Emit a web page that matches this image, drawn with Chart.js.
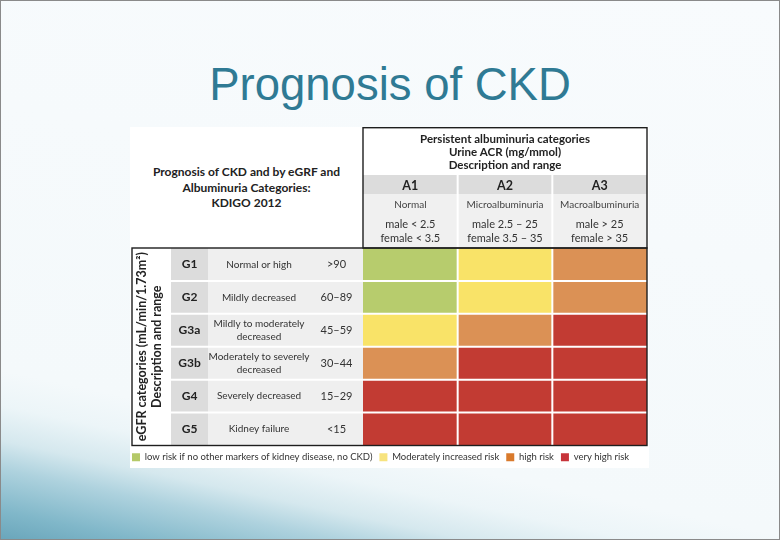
<!DOCTYPE html>
<html>
<head>
<meta charset="utf-8">
<script src="https://cdn.jsdelivr.net/npm/chart.js@4.4.1/dist/chart.umd.min.js"></script>
<style>
html,body{margin:0;padding:0;}
body{width:780px;height:540px;overflow:hidden;position:relative;}
#slide{position:absolute;left:0;top:0;width:778px;height:538px;border:1px solid #8a8a8a;
  background:linear-gradient(192deg,#f8fbfd 0%,#f4f9fb 76%,#ecf5f8 81%,#d5e8ee 86%,#aed2de 90%,#80b7c9 96%,#6aa6bb 100%);}
#title{position:absolute;left:0;top:62px;width:780px;text-align:center;font-family:"Liberation Sans",Arial,sans-serif;font-size:45.5px;line-height:45px;color:#2f7a94;white-space:nowrap;}
#figure{position:absolute;left:130px;top:127px;width:519px;height:341px;background:#ffffff;}
#heading{position:absolute;left:130px;top:127px;width:233px;height:121px;display:flex;align-items:center;justify-content:center;text-align:center;font-family:Lato,"Open Sans",sans-serif;font-weight:bold;font-size:12px;line-height:15.5px;color:#222;}
#chartbox{position:absolute;left:130px;top:127px;width:519px;height:345px;}
</style>
</head>
<body>
<div id="slide"></div>
<div id="title">Prognosis of CKD</div>
<div id="figure"></div>
<div id="heading"><div>Prognosis of CKD and by eGRF and<br>Albuminuria Categories:<br>KDIGO 2012</div></div>
<div id="chartbox"><canvas id="c" width="519" height="345"></canvas></div>
<script>
// ---- data ----
const rowCodes = ['G1', 'G2', 'G3a', 'G3b', 'G4', 'G5'];
const rowDescriptions = [['Normal or high'], ['Mildly decreased'], ['Mildly to moderately', 'decreased'], ['Moderately to severely', 'decreased'], ['Severely decreased'], ['Kidney failure']];
const rowRanges = ['>90', '60–89', '45–59', '30–44', '15–29', '<15'];
const colCodes = ['A1', 'A2', 'A3'];
const colDescriptions = ['Normal', 'Microalbuminuria', 'Macroalbuminuria'];
const colRanges = [['male < 2.5', 'female < 3.5'], ['male 2.5 – 25', 'female 3.5 – 35'], ['male > 25', 'female > 35']];
const cellUnits = [1, 1, 1, 1, 1, 1];
const riskA1 = [0, 0, 1, 2, 3, 3];
const riskA2 = [1, 1, 2, 3, 3, 3];
const riskA3 = [2, 2, 3, 3, 3, 3];
const riskLabels = ['low risk if no other markers of kidney disease, no CKD)', 'Moderately increased risk', 'high risk', 'very high risk'];
const xAxisTitle = ['Persistent albuminuria categories', 'Urine ACR (mg/mmol)', 'Description and range'];
const yAxisTitle = ['eGFR categories (mL/min/1.73m²)', 'Description and range'];

// ---- styles ----
const riskColors = ['#b7cc6d', '#f9e368', '#db9155', '#c23b33'];
const legendColors = ['#b5c968', '#f7e37e', '#d97a2c', '#c7343a'];
const FAMILY = 'Lato, "Open Sans", sans-serif';
const mctx = document.createElement('canvas').getContext('2d');
function widest(labels, weight, size) {
  mctx.font = weight + ' ' + size + 'px ' + FAMILY;
  let w = 0;
  labels.forEach(l => [].concat(l).forEach(s => { w = Math.max(w, mctx.measureText(s).width); }));
  return w;
}
function centerPad(labels, weight, size, W) { return Math.max(0, (W - widest(labels, weight, size)) / 2); }

const W_TITLE = 41, W_G = 37, W_DESC = 102, W_RANGE = 53;
const H_TITLE = 48, H_A = 19, H_NAME = 20, H_RANGES = 34;
const LEGEND_PAD = 7;

const hidden = { display: false, drawTicks: false };
const noBorder = { display: false };

const risks = [riskA1, riskA2, riskA3];
const datasets = colCodes.map((c, j) => ({
  label: c,
  data: cellUnits,
  backgroundColor: risks[j].map(r => riskColors[r]),
  borderWidth: 0,
  barPercentage: 1,
  categoryPercentage: 1,
  xAxisID: 'x',
  yAxisID: 'y'
}));

const tablePlugin = {
  id: 'tableLines',
  afterLayout(chart) {
    if (chart.legend) { chart.legend.left -= (LEGEND_PAD - 2); }
  },
  afterDraw(chart) {
    const { ctx, chartArea: a, scales } = chart;
    const y = scales.y, x = scales.x, xA = scales.xA, xT = scales.xTitle, yG = scales.yG, yT = scales.yTitle;
    ctx.save();
    ctx.strokeStyle = '#ffffff';
    ctx.lineWidth = 2;
    for (let i = 1; i < rowCodes.length; i++) {
      const py = y.getPixelForValue(i - 0.5);
      ctx.beginPath(); ctx.moveTo(yG.left, py); ctx.lineTo(a.right, py); ctx.stroke();
    }
    for (let j = 1; j < colCodes.length; j++) {
      const px = x.getPixelForValue(j);
      ctx.beginPath(); ctx.moveTo(px, xA.top); ctx.lineTo(px, a.bottom); ctx.stroke();
    }
    ctx.strokeStyle = '#1e1e1e';
    ctx.lineWidth = 1.4;
    ctx.strokeRect(a.left, xT.top + 0.7, a.right - a.left, a.top - xT.top - 0.7);
    ctx.strokeRect(yT.left + 2, a.top, a.right - yT.left - 2, a.bottom - a.top);
    ctx.restore();
  }
};

new Chart(document.getElementById('c'), {
  type: 'bar',
  data: { labels: rowCodes, datasets: datasets },
  plugins: [tablePlugin],
  options: {
    indexAxis: 'y',
    responsive: false,
    animation: false,
    layout: { padding: { left: 0, right: 2, top: 0, bottom: 0 } },
    plugins: {
      tooltip: { enabled: false },
      title: { display: false },
      legend: {
        position: 'bottom',
        align: 'start',
        labels: {
          boxWidth: 8, boxHeight: 8, padding: LEGEND_PAD,
          color: '#333',
          font: { family: FAMILY, size: 9.5 },
          generateLabels: () => riskLabels.map((t, i) => ({
            text: t, fillStyle: legendColors[i], strokeStyle: legendColors[i], lineWidth: 0,
            hidden: false, index: i, fontColor: '#333'
          }))
        },
        onClick: () => {}
      }
    },
    scales: {
      x: { type: 'linear', stacked: true, min: 0, max: 3, display: false },
      y: {
        type: 'category', stacked: true, position: 'left', weight: 0,
        backgroundColor: '#efefef',
        grid: hidden, border: noBorder,
        ticks: {
          autoSkip: false, crossAlign: 'center',
          padding: centerPad(rowRanges, 'normal', 11, W_RANGE),
          color: '#333', font: { family: FAMILY, size: 11 },
          callback: (v, i) => rowRanges[i]
        },
        afterFit: s => { s.width = W_RANGE; }
      },
      yDesc: {
        type: 'category', labels: rowDescriptions, offset: true, position: 'left', weight: 1,
        backgroundColor: '#efefef',
        grid: hidden, border: noBorder,
        ticks: {
          autoSkip: false, crossAlign: 'center',
          padding: centerPad(rowDescriptions, 'normal', 10, W_DESC),
          color: '#333', font: { family: FAMILY, size: 10, lineHeight: '13.5px' }
        },
        afterFit: s => { s.width = W_DESC; }
      },
      yG: {
        type: 'category', labels: rowCodes, offset: true, position: 'left', weight: 2,
        backgroundColor: '#dcdcdc',
        grid: hidden, border: noBorder,
        ticks: {
          autoSkip: false, crossAlign: 'center',
          padding: centerPad(rowCodes, 'bold', 12, W_G),
          color: '#222', font: { family: FAMILY, size: 12, weight: 'bold' }
        },
        afterFit: s => { s.width = W_G; }
      },
      yTitle: {
        type: 'category', labels: rowCodes, offset: true, position: 'left', weight: 3,
        grid: hidden, border: noBorder,
        ticks: { display: false },
        title: {
          display: true, text: yAxisTitle, color: '#222',
          font: { family: FAMILY, size: 12.5, weight: 'bold', lineHeight: '14.5px' },
          padding: { top: 5, bottom: 0 }
        },
        afterFit: s => { s.width = W_TITLE; }
      },
      xRanges: {
        type: 'category', labels: colRanges, offset: true, position: 'top', weight: 0,
        backgroundColor: '#f0f0f0',
        grid: hidden, border: noBorder,
        ticks: {
          autoSkip: false, maxRotation: 0, minRotation: 0, padding: 3,
          color: '#333', font: { family: FAMILY, size: 11, lineHeight: '13.5px' }
        },
        afterFit: s => { s.height = H_RANGES; }
      },
      xName: {
        type: 'category', labels: colDescriptions, offset: true, position: 'top', weight: 1,
        backgroundColor: '#f0f0f0',
        grid: hidden, border: noBorder,
        ticks: {
          autoSkip: false, maxRotation: 0, minRotation: 0, padding: 2.5,
          color: '#444', font: { family: FAMILY, size: 10, lineHeight: '13px' }
        },
        afterFit: s => { s.height = H_NAME; }
      },
      xA: {
        type: 'category', labels: colCodes, offset: true, position: 'top', weight: 2,
        backgroundColor: '#dcdcdc',
        grid: hidden, border: noBorder,
        ticks: {
          autoSkip: false, maxRotation: 0, minRotation: 0, padding: 1,
          color: '#222', font: { family: FAMILY, size: 12.5, weight: 'bold', lineHeight: '15px' }
        },
        afterFit: s => { s.height = H_A; }
      },
      xTitle: {
        type: 'category', labels: colCodes, offset: true, position: 'top', weight: 3,
        grid: hidden, border: noBorder,
        ticks: { display: false },
        title: {
          display: true, text: xAxisTitle, color: '#222',
          font: { family: FAMILY, size: 11.5, weight: 'bold', lineHeight: '12.8px' },
          padding: { top: 6, bottom: 0 }
        },
        afterFit: s => { s.height = H_TITLE; }
      }
    }
  }
});
</script>
</body>
</html>
